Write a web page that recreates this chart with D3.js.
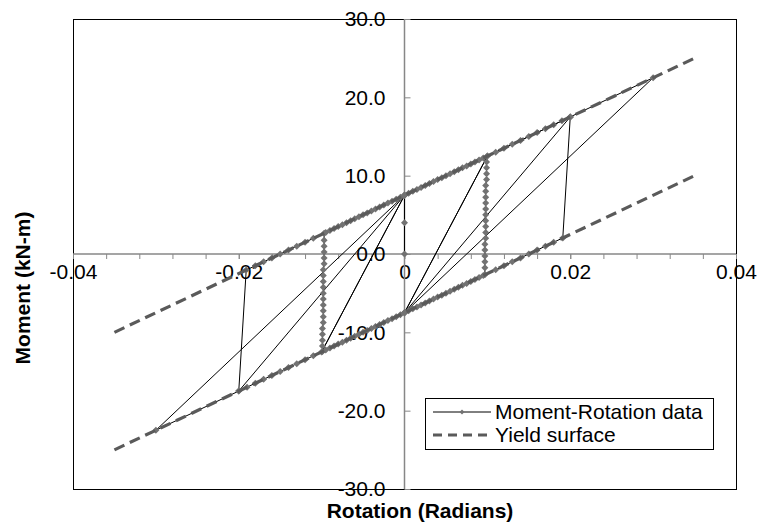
<!DOCTYPE html>
<html>
<head>
<meta charset="utf-8">
<script src="https://cdn.jsdelivr.net/npm/d3@7/dist/d3.min.js"></script>
<style>
  body { margin: 0; background: #fff; }
  svg { display: block; font-family: "Liberation Sans", Arial, sans-serif; }
</style>
</head>
<body>
<div id="chart"></div>
<script>
// moment-rotation record, [rotation (rad), moment (kN-m)], in the order it was recorded
const initial = [[0, 0], [0, 4.0], [0, 7.5]];
const upperToA1 = [[0.0005, 7.75], [0.001, 8.0], [0.0015, 8.25], [0.002, 8.5], [0.0025, 8.75], [0.003, 9.0], [0.0035, 9.25], [0.004, 9.5], [0.0045, 9.75], [0.005, 10.0], [0.0055, 10.25], [0.006, 10.5], [0.0065, 10.75], [0.007, 11.0], [0.0075, 11.25], [0.008, 11.5], [0.0085, 11.75], [0.009, 12.0], [0.0095, 12.25], [0.01, 12.5]];
const dropAtA1 = [[0.0099, 11.75], [0.0099, 11.0], [0.0099, 10.25], [0.0099, 9.5], [0.0098, 8.75], [0.0098, 8.0], [0.0098, 7.25], [0.0098, 6.5], [0.0098, 5.75], [0.0098, 5.0], [0.0098, 4.25], [0.0098, 3.5], [0.0098, 2.75], [0.0098, 2.0], [0.0097, 1.25], [0.0097, 0.5], [0.0097, -0.25], [0.0097, -1.0], [0.0097, -1.75], [0.0097, -2.65]];
const lowerToZero = [[0.0095, -2.75], [0.009, -3.0], [0.0085, -3.25], [0.008, -3.5], [0.0075, -3.75], [0.007, -4.0], [0.0065, -4.25], [0.006, -4.5], [0.0055, -4.75], [0.005, -5.0], [0.0045, -5.25], [0.004, -5.5], [0.0035, -5.75], [0.003, -6.0], [0.0025, -6.25], [0.002, -6.5], [0.0015, -6.75], [0.001, -7.0], [0.0005, -7.25], [0, -7.5]];
const jumpA1pos = [[0.01, 12.5], [0, -7.5]];
const lowerToNegA1 = [[-0.0005, -7.75], [-0.001, -8.0], [-0.0015, -8.25], [-0.002, -8.5], [-0.0025, -8.75], [-0.003, -9.0], [-0.0035, -9.25], [-0.004, -9.5], [-0.0045, -9.75], [-0.005, -10.0], [-0.0055, -10.25], [-0.006, -10.5], [-0.0065, -10.75], [-0.007, -11.0], [-0.0075, -11.25], [-0.008, -11.5], [-0.0085, -11.75], [-0.009, -12.0], [-0.0095, -12.25], [-0.0099, -12.45]];
const riseAtNegA1 = [[-0.0099, -11.75], [-0.0099, -11.0], [-0.0099, -10.25], [-0.0099, -9.5], [-0.0098, -8.75], [-0.0098, -8.0], [-0.0098, -7.25], [-0.0098, -6.5], [-0.0098, -5.75], [-0.0098, -5.0], [-0.0098, -4.25], [-0.0098, -3.5], [-0.0098, -2.75], [-0.0098, -2.0], [-0.0097, -1.25], [-0.0097, -0.5], [-0.0097, 0.25], [-0.0097, 1.0], [-0.0097, 1.75], [-0.0097, 2.65]];
const upperToZero = [[-0.0095, 2.75], [-0.009, 3.0], [-0.0085, 3.25], [-0.008, 3.5], [-0.0075, 3.75], [-0.007, 4.0], [-0.0065, 4.25], [-0.006, 4.5], [-0.0055, 4.75], [-0.005, 5.0], [-0.0045, 5.25], [-0.004, 5.5], [-0.0035, 5.75], [-0.003, 6.0], [-0.0025, 6.25], [-0.002, 6.5], [-0.0015, 6.75], [-0.001, 7.0], [-0.0005, 7.25], [0, 7.5]];
const jumpA1neg = [[-0.01, -12.5], [0, 7.5]];
const upperToA2 = [[0.011, 13.0], [0.012, 13.5], [0.013, 14.0], [0.014, 14.5], [0.015, 15.0], [0.016, 15.5], [0.017, 16.0], [0.018, 16.5], [0.019, 17.0], [0.02, 17.5]];
const dropAtA2 = [[0.0191, 2.05]];
const lowerFromA2 = [[0.018, 1.5], [0.017, 1.0], [0.016, 0.5], [0.015, 0.0], [0.014, -0.5], [0.013, -1.0], [0.012, -1.5], [0.011, -2.0], [0, -7.5]];
const jumpA2 = [[0.02, 17.5], [0, 7.5], [-0.02, -17.5]];
const riseAtNegA2 = [[-0.0191, -2.05]];
const upperFromNegA2 = [[-0.018, -1.5], [-0.017, -1.0], [-0.016, -0.5], [-0.015, 0.0], [-0.014, 0.5], [-0.013, 1.0], [-0.012, 1.5], [-0.011, 2.0], [0, 7.5]];
const jumpA3neg = [[-0.03, -22.5], [-0.02, -17.5]];
const lowerFromNegA2 = [[-0.019, -17.0], [-0.018, -16.5], [-0.017, -16.0], [-0.016, -15.5], [-0.015, -15.0], [-0.014, -14.5], [-0.013, -14.0], [-0.012, -13.5], [-0.011, -13.0], [0, -7.5]];
const jumpA3pos = [[0.03, 22.5], [0.02, 17.5]];

// yield surface (two dashed bounds)
const yieldRotation = [-0.035, 0.035];
const yieldUpper = [-10, 25];
const yieldLower = [-25, 10];

// axis ticks
const xLabelTicks = [-0.04, -0.02, 0, 0.02, 0.04];
const xMinorTicks = [-0.036, -0.032, -0.028, -0.024, -0.02, -0.016, -0.012, -0.008, -0.004, 0.004, 0.008, 0.012, 0.016, 0.02, 0.024, 0.028, 0.032, 0.036];
const yTicks = [-30, -20, -10, 0, 10, 20, 30];

const record = [].concat(initial, upperToA1, dropAtA1, lowerToZero, jumpA1pos, lowerToNegA1,
  riseAtNegA1, upperToZero, jumpA1neg, upperToA2, dropAtA2, lowerFromA2, jumpA2, riseAtNegA2,
  upperFromNegA2, jumpA3neg, lowerFromNegA2, jumpA3pos);

const W = 757, H = 527;
const box = { left: 73, right: 736, top: 19, bottom: 489 };

const svg = d3.select("#chart").append("svg")
  .attr("width", W)
  .attr("height", H);

const x = d3.scaleLinear().domain([-0.04, 0.04]).range([box.left, box.right]);
const y = d3.scaleLinear().domain([-30, 30]).range([box.bottom, box.top]);

// plot frame
svg.append("rect")
  .attr("x", box.left + 0.5).attr("y", box.top + 0.5)
  .attr("width", box.right - box.left).attr("height", box.bottom - box.top)
  .attr("fill", "#fff").attr("stroke", "#000").attr("stroke-width", 1);

// x axis through M = 0
const xMinor = svg.append("g")
  .attr("transform", `translate(0, ${y(0)})`)
  .call(d3.axisBottom(x).tickValues(xMinorTicks).tickSize(5).tickFormat(""));

const xAxis = svg.append("g")
  .attr("transform", `translate(0, ${y(0)})`)
  .call(d3.axisBottom(x).tickValues(xLabelTicks).tickSize(5).tickPadding(5)
    .tickFormat(d => d === 0 ? "0" : d3.format(".2f")(d).replace("\u2212", "-")));

// y axis through rotation = 0, ticks point right, labels on the left
const yAxis = svg.append("g")
  .attr("transform", `translate(${x(0)}, 0)`)
  .call(d3.axisLeft(y).tickValues(yTicks).tickSizeInner(-6).tickSizeOuter(0).tickPadding(19)
    .tickFormat(d => d3.format(".1f")(d).replace("\u2212", "-")));

[xMinor, xAxis, yAxis].forEach(g => {
  g.select(".domain").attr("stroke", "#878787").attr("stroke-width", 1.5);
  g.selectAll(".tick line").attr("stroke", "#878787").attr("stroke-width", 1);
  g.selectAll("text").attr("font-size", 21).attr("fill", "#000").attr("font-family", "Liberation Sans, Arial, sans-serif");
});
xMinor.select(".domain").remove();
xAxis.select(".domain").attr("d", `M${box.left},0H${box.right}`);
yAxis.select(".domain").attr("d", `M0,${box.top}V${box.bottom}`);

// data line
const line = d3.line().x(d => x(d[0])).y(d => y(d[1]));

svg.append("path")
  .datum(record)
  .attr("d", line)
  .attr("fill", "none")
  .attr("stroke", "#000")
  .attr("stroke-width", 1);

const diamond = r => `M0,${-r}L${r},0L0,${r}L${-r},0Z`;

svg.append("g").selectAll("path")
  .data(record)
  .join("path")
  .attr("transform", d => `translate(${x(d[0])}, ${y(d[1])})`)
  .attr("d", diamond(3.5))
  .attr("fill", "#727272");

// yield surface
[yieldUpper, yieldLower].forEach(m => {
  svg.append("path")
    .datum(yieldRotation.map((r, i) => [r, m[i]]))
    .attr("d", line)
    .attr("fill", "none")
    .attr("stroke", "#5a5a5a")
    .attr("stroke-width", 3.2)
    .attr("stroke-dasharray", "11,6");
});

// axis titles
svg.append("text")
  .attr("x", 420).attr("y", 518)
  .attr("text-anchor", "middle")
  .attr("font-size", 21).attr("font-weight", "bold")
  .text("Rotation (Radians)");

svg.append("text")
  .attr("transform", "translate(30, 288) rotate(-90)")
  .attr("text-anchor", "middle")
  .attr("font-size", 21).attr("font-weight", "bold")
  .text("Moment (kN-m)");

// legend
const legend = svg.append("g");
legend.append("rect")
  .attr("x", 425.5).attr("y", 398.5)
  .attr("width", 288).attr("height", 51)
  .attr("fill", "#fff").attr("stroke", "#000").attr("stroke-width", 1);

legend.append("line")
  .attr("x1", 433).attr("x2", 491).attr("y1", 412).attr("y2", 412)
  .attr("stroke", "#000").attr("stroke-width", 1);
legend.append("path")
  .attr("transform", "translate(462, 412)")
  .attr("d", diamond(2.5))
  .attr("fill", "#727272");
legend.append("line")
  .attr("x1", 433).attr("x2", 491).attr("y1", 435).attr("y2", 435)
  .attr("stroke", "#5a5a5a").attr("stroke-width", 3.2).attr("stroke-dasharray", "9,6");

legend.selectAll("text.entry")
  .data(["Moment-Rotation data", "Yield surface"])
  .join("text")
  .attr("class", "entry")
  .attr("x", 495)
  .attr("y", (d, i) => 412 + i * 23)
  .attr("dy", "0.35em")
  .attr("font-size", 21)
  .text(d => d);
</script>
</body>
</html>
